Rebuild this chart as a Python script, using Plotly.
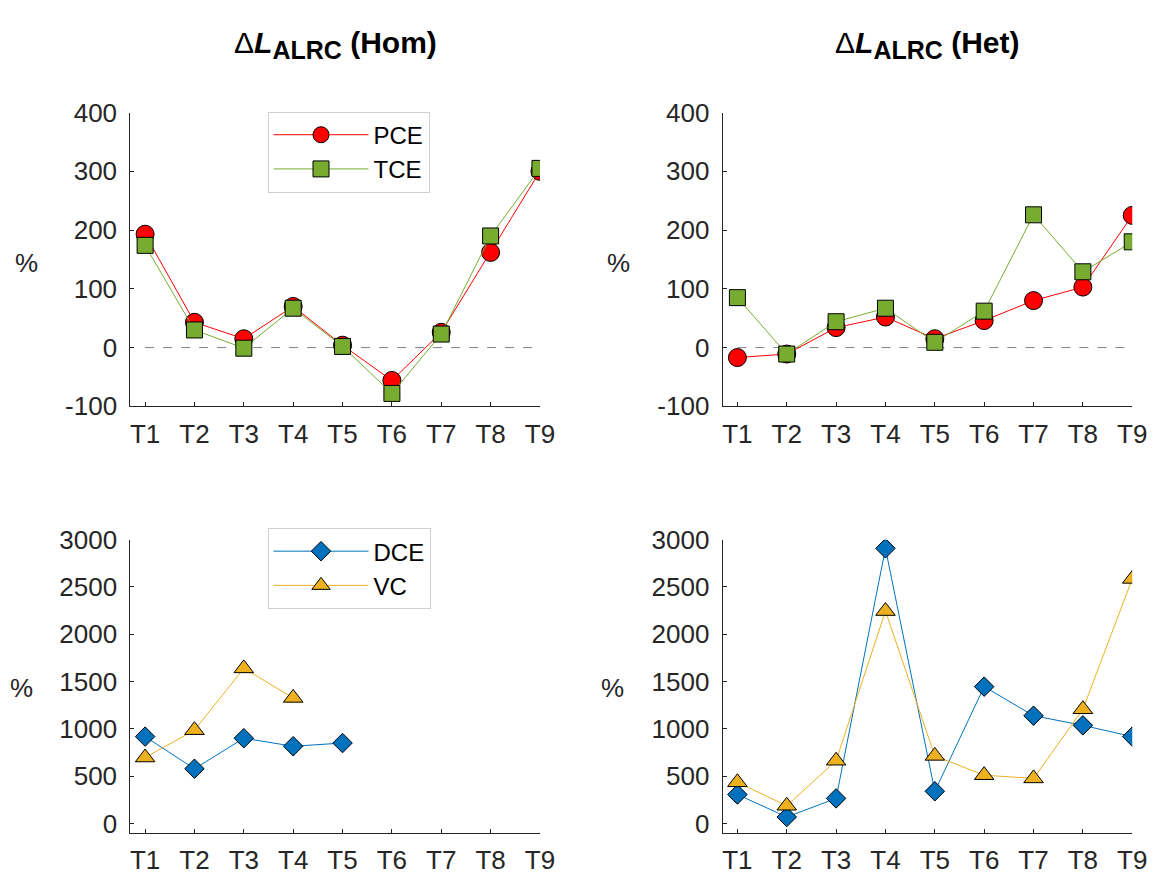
import plotly.graph_objects as go

# Treatment categories shared by all four panels
categories = ["T1", "T2", "T3", "T4", "T5", "T6", "T7", "T8", "T9"]

# Percent change in ALRC, homogeneous case
hom_pce = [193, 43, 15, 70, 4, -56, 26, 162, 300]
hom_tce = [174, 30, -1, 67, 2, -78, 23, 190, 305]
hom_dce = [918, 578, 901, 816, 850, None, None, None, None]
hom_vc = [697, 986, 1639, 1327, None, None, None, None, None]

# Percent change in ALRC, heterogeneous case
het_pce = [-17, -11, 34, 52, 15, 46, 80, 103, 225]
het_tce = [85, -11, 44, 67, 9, 62, 226, 129, 180]
het_dce = [306, 68, 265, 2908, 340, 1446, 1139, 1037, 918]
het_vc = [435, 187, 663, 2245, 714, 510, 476, 1207, 2585]

# Tick positions for the two kinds of y axis
upper_ticks = [-100, 0, 100, 200, 300, 400]
lower_ticks = [0, 500, 1000, 1500, 2000, 2500, 3000]

W, H = 1166, 888
AX = "#262626"
FONT = "Liberation Sans, Arial, Helvetica, sans-serif"

RED, GREEN, BLUE, GOLD = "#ff0000", "#77ac30", "#0072bd", "#edb120"


def px_x(p):
    return p / W


def px_y(p):
    return 1 - p / H


fig = go.Figure()

panels = {
    # name: (xaxis, yaxis, x-domain px, y-domain px)
    "hom_top": ("x", "y", (132, 547), (101, 405)),
    "het_top": ("x2", "y2", (732, 1147), (101, 405)),
    "hom_bot": ("x3", "y3", (132, 547), (543, 846.5)),
    "het_bot": ("x4", "y4", (732, 1147), (543, 846.5)),
}


def add_series(xa, ya, y, name, color, symbol, size, legend, show):
    fig.add_trace(go.Scatter(
        x=categories, y=y, name=name, mode="lines+markers",
        xaxis=xa, yaxis=ya, connectgaps=False,
        line=dict(color=color, width=1),
        marker=dict(symbol=symbol, size=size, color=color,
                    line=dict(color="#000000", width=1)),
        showlegend=show, legend=legend,
    ))


add_series("x", "y", hom_pce, "PCE", RED, "circle", 18, "legend", True)
add_series("x", "y", hom_tce, "TCE", GREEN, "square", 16, "legend", True)
add_series("x2", "y2", het_pce, "PCE", RED, "circle", 18, "legend", False)
add_series("x2", "y2", het_tce, "TCE", GREEN, "square", 16, "legend", False)
add_series("x3", "y3", hom_dce, "DCE", BLUE, "diamond", 15, "legend2", True)
add_series("x3", "y3", hom_vc, "VC", GOLD, "triangle-up", 17, "legend2", True)
add_series("x4", "y4", het_dce, "DCE", BLUE, "diamond", 15, "legend2", False)
add_series("x4", "y4", het_vc, "VC", GOLD, "triangle-up", 17, "legend2", False)

axis_common = dict(
    showline=True, linecolor=AX, linewidth=1, mirror=False,
    ticks="inside", ticklen=4, tickcolor=AX, tickwidth=1,
    showgrid=False, zeroline=False,
    tickfont=dict(family=FONT, size=26, color=AX),
)

layout = dict(
    width=W, height=H, margin=dict(l=0, r=0, t=0, b=0),
    paper_bgcolor="white", plot_bgcolor="white",
    font=dict(family=FONT, color=AX),
)

for key, (xa, ya, (x0, x1), (y0, y1)) in panels.items():
    xname = "xaxis" if xa == "x" else "xaxis" + xa[1:]
    yname = "yaxis" if ya == "y" else "yaxis" + ya[1:]
    top = key.endswith("top")
    ticks = upper_ticks if top else lower_ticks
    layout[xname] = dict(
        axis_common, domain=[px_x(x0), px_x(x1)], anchor=ya,
        type="category", categoryorder="array", categoryarray=categories,
        range=[-0.3, 8], ticklabelstandoff=4,
    )
    layout[yname] = dict(
        axis_common, domain=[px_y(y1), px_y(y0)], anchor=xa,
        range=[-100, 400] if top else [-100, 3000],
        tickvals=ticks, ticktext=[str(t) for t in ticks],
        ticklabelstandoff=7,
    )

fig.update_layout(**layout)

# Zero reference lines on the upper panels
for xa, ya in (("x", "y"), ("x2", "y2")):
    fig.add_shape(type="line", xref=xa, yref=ya, x0=0, x1=8, y0=0, y1=0,
                  line=dict(color="#808080", width=1, dash="dash"),
                  layer="below")

legend_style = dict(
    xref="paper", yref="paper", xanchor="left", yanchor="top",
    bgcolor="white", bordercolor="#d0d0d0", borderwidth=1,
    font=dict(family=FONT, size=24, color="#000000"),
    itemwidth=95, tracegroupgap=0, itemclick=False,
)
fig.update_layout(
    legend=dict(legend_style, x=px_x(271), y=px_y(100)),
    legend2=dict(legend_style, x=px_x(271), y=px_y(531)),
)

# Panel titles
title_tpl = ("Δ<b><i>L</i><sub><span style='font-size:25px'>ALRC</span></sub>"
             " ({})</b>")
for cx, label in ((339.5, "Hom"), (939.5, "Het")):
    fig.add_annotation(
        x=px_x(cx), y=px_y(31), xref="paper", yref="paper",
        xanchor="center", yanchor="middle", showarrow=False,
        text=title_tpl.format(label),
        font=dict(family=FONT, size=30, color="#000000"),
    )

# y-axis unit labels
for cx, cy in ((27, 257), (627, 257), (22, 697), (620, 697)):
    fig.add_annotation(
        x=px_x(cx), y=px_y(cy), xref="paper", yref="paper",
        xanchor="center", yanchor="middle", showarrow=False,
        text="%", font=dict(family=FONT, size=26, color=AX),
    )

fig.write_html("out.html")
